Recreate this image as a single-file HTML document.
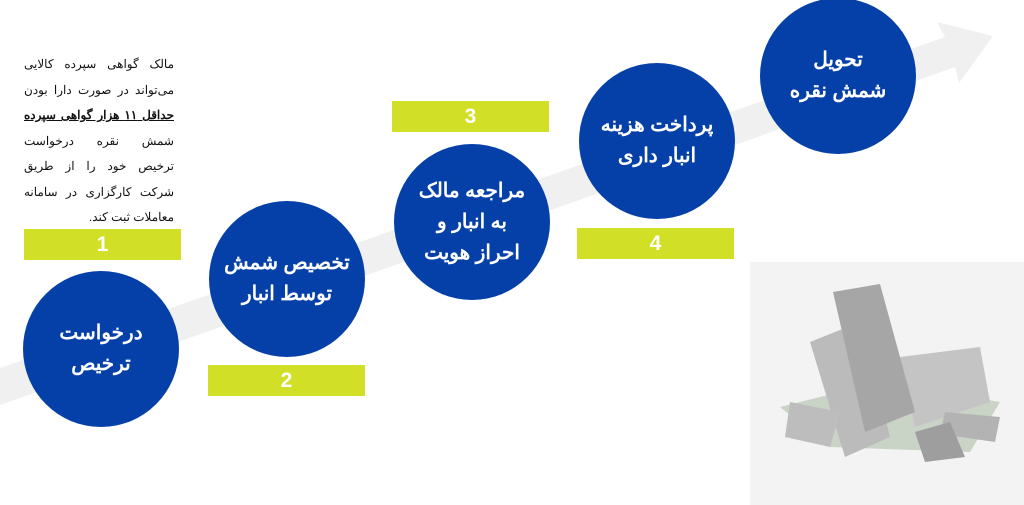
<!DOCTYPE html>
<html><head><meta charset="utf-8"><style>
html,body{margin:0;padding:0;background:#fff;width:1024px;height:505px;overflow:hidden;position:relative;font-family:"Liberation Sans","Noto Sans CJK SC",sans-serif}
.c{position:absolute;width:156px;height:156px;border-radius:50%;background:#0540a8;color:#fff;display:flex;align-items:center;justify-content:center;text-align:center;font-weight:bold;font-size:20px;line-height:31px;direction:rtl}
.b{position:absolute;width:157px;height:31px;background:#d1df26;color:#fff;font-weight:bold;font-size:21px;text-align:center;line-height:31px}
.t{position:absolute;left:24px;top:52px;width:150px;direction:rtl;text-align:justify;font-size:12px;line-height:25.5px;color:#111}
</style></head><body>
<svg width="1024" height="505" style="position:absolute;left:0;top:0">
<polygon points="0,368 945,37 937,22 993,36 959,83 955,67 0,405" fill="#f0f0f0"/>
</svg>
<div style="position:absolute;left:750px;top:262px;width:274px;height:243px;background:#f3f3f3"></div>
<svg width="274" height="243" style="position:absolute;left:750px;top:262px">
<polygon points="30,145 130,120 250,140 220,190 80,185" fill="#c9d3c6"/>
<polygon points="60,80 110,60 140,175 95,195" fill="#bbb"/>
<polygon points="150,95 230,85 240,140 165,165" fill="#c4c4c4"/>
<polygon points="83,30 130,22 165,150 115,170" fill="#a6a6a6"/>
<polygon points="40,140 90,150 80,185 35,175" fill="#bdbdbd"/>
<polygon points="195,150 250,155 245,180 190,172" fill="#b3b3b3"/>
<polygon points="165,170 200,160 215,195 175,200" fill="#9e9e9e"/>
</svg>
<div class="t">مالک گواهی سپرده کالایی می‌تواند در صورت دارا بودن <b style="text-decoration:underline">حداقل ۱۱ هزار گواهی سپرده</b> شمش نقره درخواست ترخیص خود را از طریق شرکت کارگزاری در سامانه معاملات ثبت کند.</div>
<div class="b" style="left:24px;top:229px">1</div>
<div class="b" style="left:208px;top:365px">2</div>
<div class="b" style="left:392px;top:101px">3</div>
<div class="b" style="left:577px;top:228px">4</div>
<div class="c" style="left:23px;top:271px">درخواست<br>ترخیص</div>
<div class="c" style="left:209px;top:201px">تخصیص شمش<br>توسط انبار</div>
<div class="c" style="left:394px;top:144px">مراجعه مالک<br>به انبار و<br>احراز هویت</div>
<div class="c" style="left:579px;top:63px">پرداخت هزینه<br>انبار داری</div>
<div class="c" style="left:760px;top:-2px">تحویل<br>شمش نقره</div>
</body></html>
